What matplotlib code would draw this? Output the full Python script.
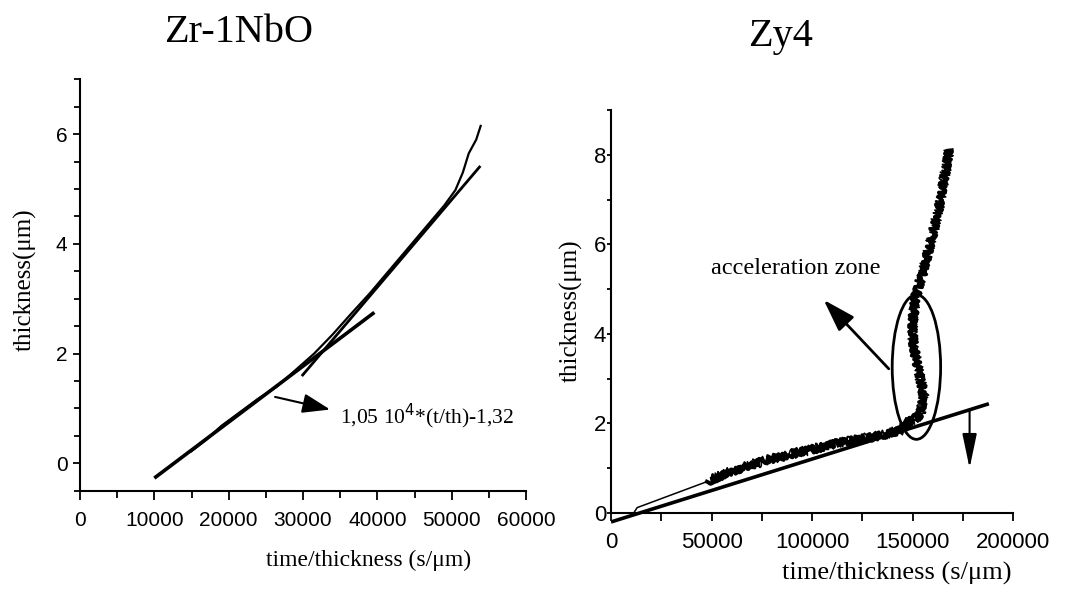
import matplotlib
matplotlib.use("Agg")
import matplotlib.pyplot as plt
from matplotlib.patches import Ellipse
from matplotlib.ticker import MultipleLocator

# ---- data ----
# Zr-1NbO
zr_x = [15000, 17000, 19000, 21500, 24000, 26500, 29000, 31500, 34000, 36500,
        39000, 41500, 44000, 46500, 49000, 50500, 51500, 52300, 53300, 53900]
zr_y = [0.22, 0.43, 0.68, 0.93, 1.18, 1.40, 1.70, 2.00, 2.35, 2.73,
        3.10, 3.50, 3.90, 4.30, 4.70, 4.98, 5.30, 5.65, 5.90, 6.15]
zr_fit1_x = [10000, 39600]
zr_fit1_y = [-0.27, 2.75]
zr_fit2_x = [29840, 53860]
zr_fit2_y = [1.59, 5.42]

# Zy4
zy_thin_x = [11600, 13000, 47700]
zy_thin_y = [0.02, 0.12, 0.70]
zy_x = [47700, 60000, 75000, 88000, 100000, 112000, 125000, 130700, 140000, 144900,
        147300, 151000, 154000, 155600, 153800, 152300, 150800, 149800, 150500,
        151500, 155600, 159000, 162300, 164800, 167300, 168100]
zy_y = [0.70, 0.93, 1.15, 1.30, 1.42, 1.55, 1.66, 1.70, 1.80, 1.86,
        2.02, 2.10, 2.20, 2.65, 3.00, 3.33, 3.70, 4.08, 4.45,
        4.83, 5.44, 6.04, 6.64, 7.24, 7.84, 8.11]
zy_fit_x = [0, 188000]
zy_fit_y = [-0.2, 2.44]

zr_xticks = [0, 10000, 20000, 30000, 40000, 50000, 60000]
zy_xticks = [0, 50000, 100000, 150000, 200000]

serif = ['Liberation Serif', 'DejaVu Serif']
sans = ['Liberation Sans', 'DejaVu Sans']

W, H = 1065, 590
fig = plt.figure(figsize=(W / 100, H / 100), dpi=100)


def px(x, y):
    return x / W, 1 - y / H


# ---------------- left panel ----------------
ax1 = fig.add_axes([80 / W, 1 - 490.7 / H, 446 / W, 411.4 / H])
ax1.plot(zr_fit1_x, zr_fit1_y, color='k', lw=2.6, solid_capstyle='butt')
ax1.plot(zr_fit2_x, zr_fit2_y, color='k', lw=2.0, solid_capstyle='butt')
ax1.plot(zr_x, zr_y, color='k', lw=1.6)
ax1.set_xlim(0, 60000)
ax1.set_ylim(-0.5, 7)
ax1.set_xticks(zr_xticks)
ax1.set_yticks([0, 2, 4, 6])
ax1.xaxis.set_minor_locator(MultipleLocator(5000))
ax1.yaxis.set_minor_locator(MultipleLocator(0.5))
ax1.annotate('', xy=(33650, 0.98), xytext=(26240, 1.21),
             arrowprops=dict(arrowstyle='-|>,head_length=0.85,head_width=0.3',
                             mutation_scale=20, lw=1.5, color='k', shrinkA=0, shrinkB=0))
ax1.text(34990, 0.73, '1,05 10$^{4}$*(t/th)-1,32', family=serif, fontsize=15.5,
         ha='left', va='baseline')

# ---------------- right panel ----------------
ax2 = fig.add_axes([611 / W, 1 - 524.2 / H, 402 / W, 414.2 / H])
ax2.plot(zy_fit_x, zy_fit_y, color='k', lw=2.6, solid_capstyle='butt')
ax2.plot(zy_thin_x, zy_thin_y, color='k', lw=1.1)
noisy, = ax2.plot(zy_x, zy_y, color='k', lw=2.8)
noisy.set_sketch_params(scale=3.5, length=0.8, randomness=25)
noisy2, = ax2.plot(zy_x, zy_y, color='k', lw=1.2)
noisy2.set_sketch_params(scale=5, length=0.6, randomness=40)
ax2.add_patch(Ellipse((151950, 3.26), 24100, 3.23, fill=False, lw=2.0, color='k'))
ax2.annotate('', xy=(105800, 4.76), xytext=(138200, 3.22),
             arrowprops=dict(arrowstyle='-|>,head_length=1.0,head_width=0.32',
                             mutation_scale=20, lw=2.0, color='k', shrinkA=0, shrinkB=0))
ax2.annotate('', xy=(178400, 1.0), xytext=(178400, 2.28),
             arrowprops=dict(arrowstyle='-|>,head_length=1.05,head_width=0.22',
                             mutation_scale=20, lw=1.5, color='k', shrinkA=0, shrinkB=0))
ax2.text(91700, 5.47, 'acceleration zone', family=serif, fontsize=17.5,
         ha='center', va='center')
ax2.set_xlim(0, 200000)
ax2.set_ylim(-0.25, 9)
ax2.spines['bottom'].set_position(('data', 0))
ax2.spines['left'].set_bounds(0, 9)
ax2.set_xticks(zy_xticks)
ax2.set_yticks([0, 2, 4, 6, 8])
ax2.xaxis.set_minor_locator(MultipleLocator(25000))
ax2.yaxis.set_minor_locator(MultipleLocator(1))

for ax in (ax1, ax2):
    for s in ('top', 'right'):
        ax.spines[s].set_visible(False)
    for s in ('left', 'bottom'):
        ax.spines[s].set_linewidth(1.5)
    ax.tick_params(which='both', direction='out', width=1.3)

ax1.tick_params(axis='x', which='major', length=6.5, pad=8, labelsize=15, labelfontfamily=sans)
ax1.tick_params(axis='x', which='minor', length=5)
ax1.tick_params(axis='y', which='major', length=5, pad=4, labelsize=15, labelfontfamily=sans)
ax1.tick_params(axis='y', which='minor', length=4)
ax2.tick_params(axis='x', which='major', length=5.5, pad=8, labelsize=16, labelfontfamily=sans)
ax2.tick_params(axis='x', which='minor', length=5.5)
ax2.tick_params(axis='y', which='major', length=3, pad=0.5, labelsize=16, labelfontfamily=sans)
ax2.tick_params(axis='y', which='minor', length=3)

# titles and axis labels
fig.text(*px(239, 42), 'Zr-1NbO', family=serif, fontsize=29, ha='center', va='baseline')
fig.text(*px(781, 46), 'Zy4', family=serif, fontsize=29, ha='center', va='baseline')
fig.text(*px(25, 280), 'thickness(μm)', family=serif, fontsize=18, rotation=90,
         ha='center', va='center')
fig.text(*px(571, 311), 'thickness(μm)', family=serif, fontsize=18, rotation=90,
         ha='center', va='center')
fig.text(*px(369, 566), 'time/thickness (s/μm)', family=serif, fontsize=17,
         ha='center', va='baseline')
fig.text(*px(897, 580), 'time/thickness (s/μm)', family=serif, fontsize=19,
         ha='center', va='baseline')

fig.savefig('out.png', dpi=100)
